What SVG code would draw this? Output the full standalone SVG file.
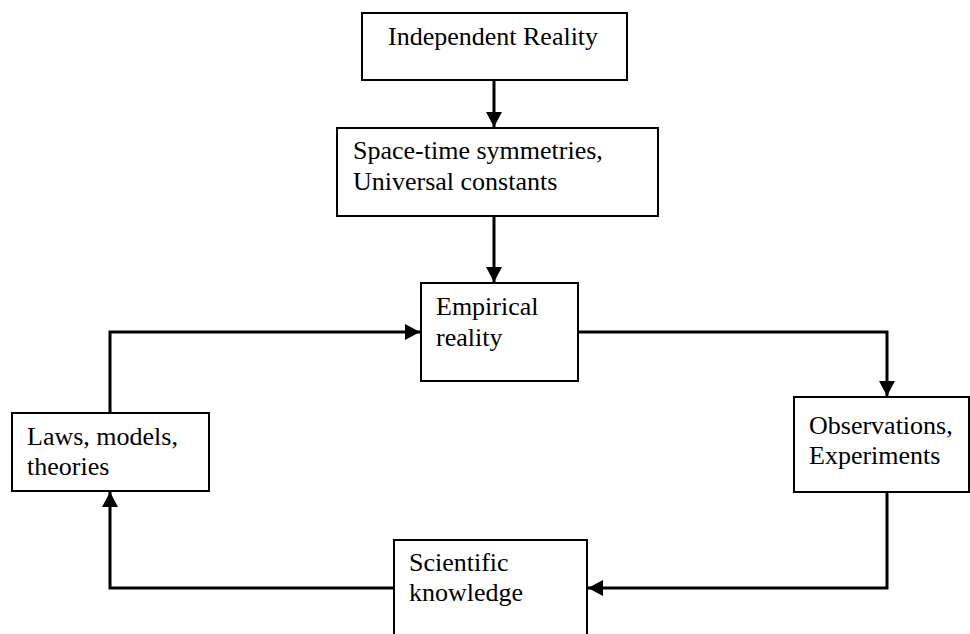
<svg xmlns="http://www.w3.org/2000/svg" width="970" height="634" viewBox="0 0 970 634">
<style>
.box{fill:#fff;stroke:#000;stroke-width:2}
.lbl{font-family:"Liberation Serif","Times New Roman",serif;font-size:26px;fill:#000}
.con{fill:none;stroke:#000;stroke-width:3}
</style>
<defs>
<marker id="ah" viewBox="0 0 15 16" refX="15" refY="8" markerWidth="15" markerHeight="16" markerUnits="userSpaceOnUse" orient="auto">
<path d="M0,0 L15,8 L0,16 Z" fill="#000"/>
</marker>
</defs>
<rect width="970" height="634" fill="#fff"/>
<g id="n-independent">
<rect class="box" x="362" y="13" width="265" height="67"/>
<text class="lbl" x="388" y="45">Independent Reality</text>
</g>
<g id="n-spacetime">
<rect class="box" x="337" y="128" width="321" height="88"/>
<text class="lbl" x="353" y="159">Space-time symmetries,</text>
<text class="lbl" x="353" y="190">Universal constants</text>
</g>
<g id="n-empirical">
<rect class="box" x="421" y="283" width="157" height="98"/>
<text class="lbl" x="436" y="315">Empirical</text>
<text class="lbl" x="436" y="346">reality</text>
</g>
<g id="n-observations">
<rect class="box" x="794" y="397" width="175" height="95"/>
<text class="lbl" x="809" y="434">Observations,</text>
<text class="lbl" x="809" y="464">Experiments</text>
</g>
<g id="n-scientific">
<rect class="box" x="394" y="540" width="193" height="110"/>
<text class="lbl" x="409" y="571">Scientific</text>
<text class="lbl" x="409" y="601">knowledge</text>
</g>
<g id="n-laws">
<rect class="box" x="12" y="413" width="197" height="78"/>
<text class="lbl" x="27" y="445">Laws, models,</text>
<text class="lbl" x="27" y="475">theories</text>
</g>
<g id="connectors">
<path class="con" d="M494,80 L494,127" marker-end="url(#ah)"/>
<path class="con" d="M494,216 L494,282" marker-end="url(#ah)"/>
<path class="con" d="M578,332 L887,332 L887,396" marker-end="url(#ah)"/>
<path class="con" d="M887,492 L887,588 L588,588" marker-end="url(#ah)"/>
<path class="con" d="M394,588 L110,588 L110,492" marker-end="url(#ah)"/>
<path class="con" d="M110,413 L110,332 L420,332" marker-end="url(#ah)"/>
</g>
</svg>
